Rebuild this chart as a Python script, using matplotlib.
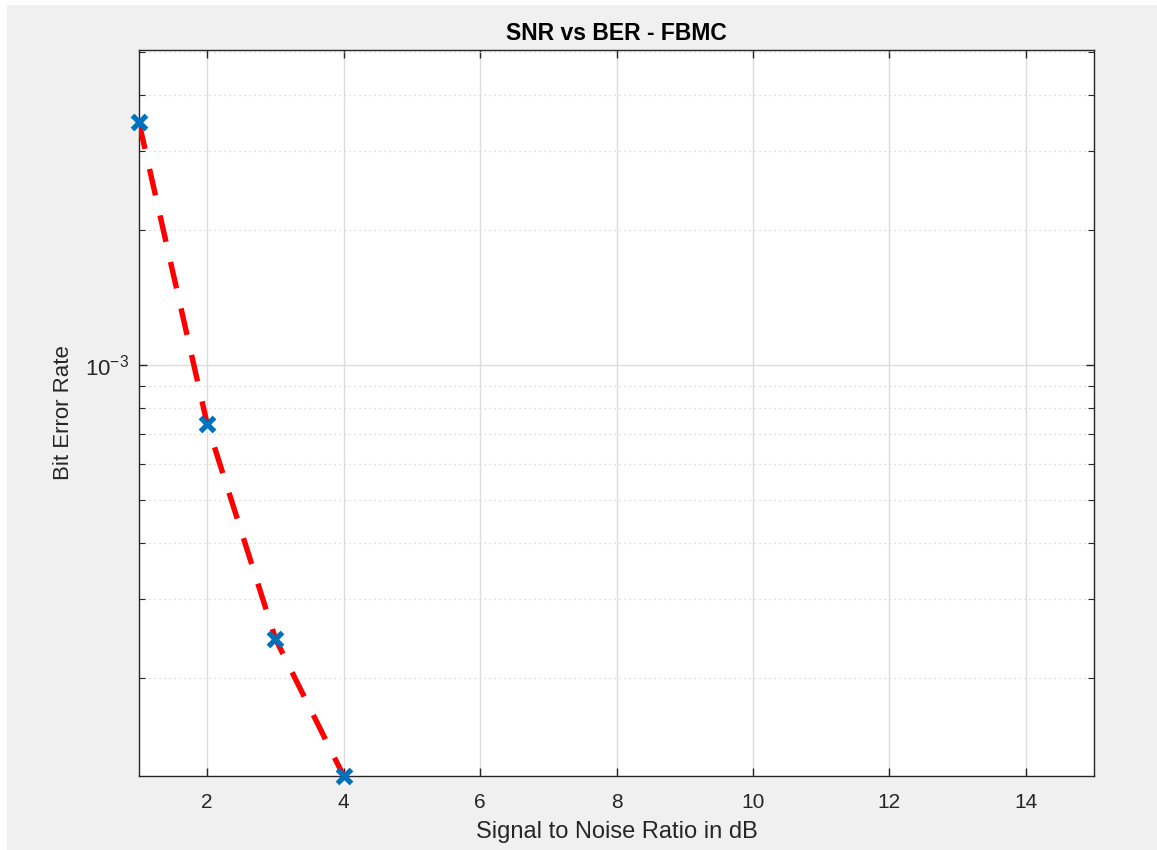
import matplotlib
matplotlib.use('Agg')
import matplotlib.pyplot as plt
import numpy as np
from matplotlib.patches import Rectangle
from matplotlib.ticker import LogLocator, NullFormatter, FixedLocator, FixedFormatter

snr_db = [1, 2, 3, 4]
ber = [3.48e-3, 7.38e-4, 2.45e-4, 1.21e-4]
x_ticks = [2, 4, 6, 8, 10, 12, 14]

plt.rcParams['font.family'] = ['Liberation Sans', 'DejaVu Sans']
plt.rcParams['mathtext.fontset'] = 'custom'
plt.rcParams['mathtext.rm'] = 'Liberation Sans'
plt.rcParams['mathtext.it'] = 'Liberation Sans'
plt.rcParams['mathtext.default'] = 'regular'

fig = plt.figure(figsize=(11.57, 8.5), dpi=100, facecolor='white')
# gray MATLAB-style figure background with thin white strip left/top
fig.patches.append(Rectangle((7 / 1157, -1), 2, 2 - 5 / 850, transform=fig.transFigure,
                             facecolor='#f0f0f0', edgecolor='none', zorder=-10))

ax = fig.add_axes([139 / 1157, 1 - 776 / 850, (1094 - 139) / 1157, (776 - 50) / 850])
ax.set_facecolor('white')

ax.plot(snr_db, ber, color='#ff0000', linestyle=(0, (5, 3.8)), linewidth=3.9, zorder=3)
ax.plot(snr_db, ber, linestyle='none', marker='x', markersize=10, markeredgewidth=3.8,
        color='#0072bd', zorder=4, clip_on=False)

ax.set_yscale('log')
ax.set_xlim(1, 15)
ax.set_ylim(1.21e-4, 5.05e-3)

ax.xaxis.set_major_locator(FixedLocator(x_ticks))
ax.yaxis.set_major_locator(FixedLocator([1e-3]))
ax.yaxis.set_major_formatter(FixedFormatter(['$10^{-3}$']))
ax.yaxis.set_minor_locator(LogLocator(base=10, subs=np.arange(2, 10), numticks=20))
ax.yaxis.set_minor_formatter(NullFormatter())

ax.grid(True, which='major', color='#dcdcdc', linewidth=1, linestyle='-')
ax.grid(True, which='minor', axis='y', color='#d0d0d0', linewidth=0.9, linestyle=(0, (1, 3)))
ax.set_axisbelow(True)

ax.tick_params(which='both', direction='in', top=True, right=True, colors='#262626',
               labelsize=15)
ax.tick_params(which='major', length=6, width=1)
ax.tick_params(axis='x', which='major', pad=12)
ax.tick_params(axis='y', which='major', pad=7, labelsize=16)
ax.tick_params(which='minor', length=4, width=0.8)
for s in ax.spines.values():
    s.set_color('#262626')
    s.set_linewidth(1)

ax.set_title('SNR vs BER - FBMC', fontsize=16.5, fontweight='bold', color='black', pad=7)
ax.set_xlabel('Signal to Noise Ratio in dB', fontsize=17, color='#262626', labelpad=7)
ax.set_ylabel('Bit Error Rate', fontsize=16, color='#262626', labelpad=8)

fig.savefig('out.png', dpi=100, facecolor=fig.get_facecolor())
